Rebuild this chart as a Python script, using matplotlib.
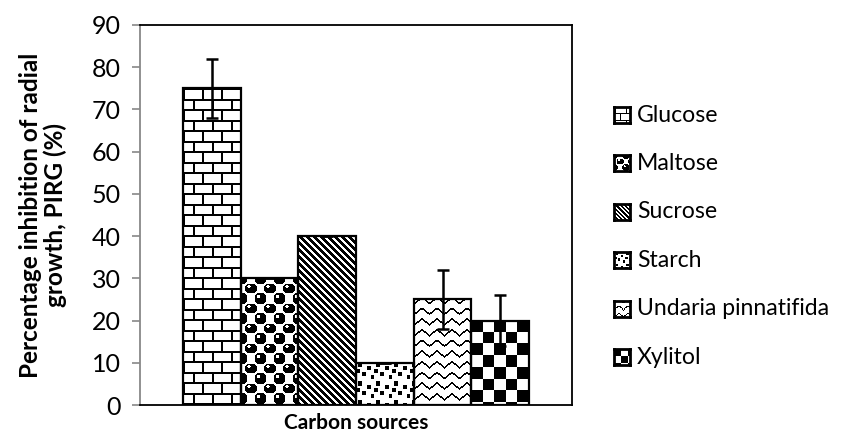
import numpy as np
import matplotlib
matplotlib.use("Agg")
import matplotlib.pyplot as plt

plt.rcParams['font.family'] = ['Lato', 'DejaVu Sans']

# carbon sources and mean PIRG (%) with standard deviations
sources = ["Glucose", "Maltose", "Sucrose", "Starch", "Undaria pinnatifida", "Xylitol"]
pirg = [75, 30, 40, 10, 25, 20]
pirg_err = [7, 0, 0, 0, 7, 6]
patterns = ["brick", "sphere", "diag", "dots", "wave", "check"]

W, H, DPI = 845, 436, 100


def texture(kind, h, w, scale=1.0):
    """Black/white fill pattern in pixel units (1 = white, 0 = black)."""
    r, c = np.mgrid[0:h, 0:w].astype(float)
    r, c = r / scale, c / scale
    img = np.ones((h, w))
    if kind == "brick":
        row_h, brick_w = 10.5, 19
        row = (r // row_h).astype(int)
        img[(r % row_h) < 2.0] = 0
        shift = np.where(row % 2 == 0, 0, brick_w / 2)
        img[((c + shift) % brick_w) < 2.0] = 0
    elif kind == "sphere":
        sx, sy = 19.0, 10.0
        row = np.round(r / sy)
        cx = c - (row % 2) * sx / 2
        dx = cx - np.round(cx / sx) * sx
        dy = r - row * sy
        d = np.hypot(dx, dy)
        img[d < 6.0] = 0
        hl = np.hypot(dx + 2.0, dy + 2.0)
        img[hl < 1.8] = 1
    elif kind == "diag":
        img[((c - r) % 7) < 3.5] = 0
    elif kind == "dots":
        tile = np.ones((18, 18))
        for (y0, x0) in [(1, 2), (4, 11), (10, 6), (13, 15), (7, 0)]:
            tile[y0:y0 + 4, x0:x0 + 4] = 0
        ri = r.astype(int) % 18
        ci = c.astype(int) % 18
        img = tile[ri, ci]
    elif kind == "wave":
        period, lam, amp = 10.7, 15.0, 3.0
        phase = (c % lam) / lam
        tri = amp * (np.abs(2 * phase - 1) * 2 - 1)
        yy = (r - tri) % period
        img[yy < 2.0] = 0
    elif kind == "check":
        s = 11.5
        img[((c // s) + (r // s)) % 2 == 0] = 0
    return img


fig = plt.figure(figsize=(W / DPI, H / DPI), dpi=DPI)
ax = fig.add_axes([140 / W, (H - 405) / H, (572 - 140) / W, (405 - 25) / H])

x = np.arange(len(sources))
bars = ax.bar(x, pirg, width=1.0, facecolor="none", edgecolor="black",
              linewidth=1.6, zorder=3)
ax.errorbar(x, pirg, yerr=pirg_err, fmt="none", ecolor="black",
            elinewidth=1.8, capsize=4.5, capthick=1.8, zorder=4)

xlim = (-0.5 - 0.745, len(sources) - 0.5 + 0.745)
ax.set_yticks(range(0, 91, 10))
ax.set_xticks([])

# fill each bar with its pattern, clipped to the bar outline
px_per_x = (572 - 140) / (xlim[1] - xlim[0])
px_per_y = (405 - 25) / 90.0
for b, kind in zip(bars, patterns):
    x0, w = b.get_x(), b.get_width()
    hgt = b.get_height()
    tex = texture(kind, max(int(round(hgt * px_per_y)), 1),
                  max(int(round(w * px_per_x)), 1))
    im = ax.imshow(tex, extent=(x0, x0 + w, 0, hgt), cmap="gray",
                   vmin=0, vmax=1, interpolation="nearest", aspect="auto",
                   zorder=2)
    im.set_clip_path(b)
ax.set_xlim(*xlim)
ax.set_ylim(0, 90)

for side in ["top", "right", "bottom"]:
    ax.spines[side].set_color("black")
    ax.spines[side].set_linewidth(1.3)
ax.spines["left"].set_color("#888888")
ax.spines["left"].set_linewidth(1.3)
ax.tick_params(axis="y", direction="out", length=6, width=1.2, color="#888888",
               labelsize=18, pad=8)

ax.set_ylabel("Percentage inhibition of radial\ngrowth, PIRG (%)",
              fontsize=17.5, fontweight="bold", linespacing=1.05)
ax.yaxis.set_label_coords(-0.169, 0.5)
ax.set_xlabel("Carbon sources", fontsize=15, fontweight="bold", labelpad=6)

# legend: small patterned swatches with labels
sw = 16
for i, (name, kind) in enumerate(zip(sources, patterns)):
    yc = 115 + i * 48.4
    sax = fig.add_axes([614 / W, (H - yc - sw / 2) / H, sw / W, sw / H])
    sax.imshow(texture(kind, sw, sw, scale=0.6), cmap="gray", vmin=0, vmax=1,
               interpolation="nearest", aspect="auto")
    sax.set_xticks([])
    sax.set_yticks([])
    for sp in sax.spines.values():
        sp.set_linewidth(2.0)
    fig.text(637 / W, (H - yc) / H, name, fontsize=16.6, va="center",
             ha="left")

fig.savefig("out.png", dpi=DPI)
